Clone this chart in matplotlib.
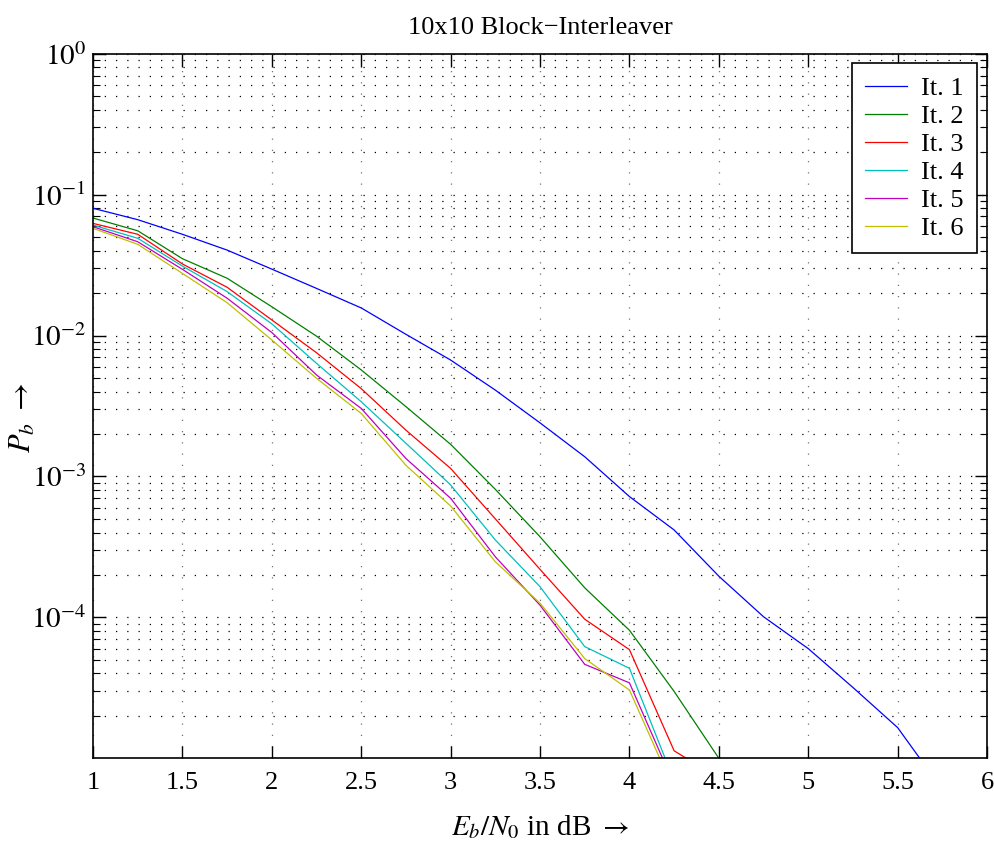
import numpy as np
import matplotlib
matplotlib.use("Agg")
import matplotlib.pyplot as plt
from matplotlib.ticker import LogLocator, NullFormatter, FixedLocator

# Data (Eb/N0 in dB vs. bit error probability)
ebn0 = [1.0, 1.25, 1.5, 1.75, 2.0, 2.25, 2.5, 2.75, 3.0, 3.25, 3.5,
        3.75, 4.0, 4.25, 4.5, 4.75, 5.0, 5.25, 5.5, 5.75]

it1 = [0.080, 0.0664, 0.0523, 0.0404, 0.0296, 0.0216, 0.0157, 0.0102,
       6.7e-3, 4.1e-3, 2.4e-3, 1.38e-3, 7.2e-4, 4.17e-4, 1.96e-4,
       1.01e-4, 6.0e-5, 3.18e-5, 1.65e-5, 6.0e-6]
it2 = [0.0682, 0.0554, 0.0351, 0.0255, 0.016, 0.0099, 5.7e-3, 3.13e-3,
       1.69e-3, 8.1e-4, 3.73e-4, 1.62e-4, 8.1e-5, 2.98e-5, 1.0e-5, 2e-6]
it3 = [0.0625, 0.0523, 0.0322, 0.022, 0.0129, 7.55e-3, 4.2e-3, 2.13e-3,
       1.14e-3, 5.0e-4, 2.19e-4, 9.7e-5, 5.9e-5, 1.13e-5, 7.2e-6]
it4 = [0.0608, 0.049, 0.0311, 0.0205, 0.0121, 6.35e-3, 3.39e-3, 1.72e-3,
       8.7e-4, 3.54e-4, 1.65e-4, 6.2e-5, 4.35e-5, 6.9e-6]
it5 = [0.0592, 0.0463, 0.0295, 0.0184, 0.0105, 5.25e-3, 3.04e-3, 1.34e-3,
       7.0e-4, 2.69e-4, 1.22e-4, 4.64e-5, 3.43e-5, 6.5e-6]
it6 = [0.0576, 0.0444, 0.0276, 0.0171, 9.3e-3, 4.97e-3, 2.8e-3, 1.2e-3,
       6.17e-4, 2.48e-4, 1.26e-4, 5.1e-5, 3.05e-5, 5.9e-6]

series = [it1, it2, it3, it4, it5, it6]
labels = ["It. 1", "It. 2", "It. 3", "It. 4", "It. 5", "It. 6"]
colors = [(0, 0, 1), (0, 0.5, 0), (1, 0, 0), (0, 0.75, 0.75),
          (0.75, 0, 0.75), (0.75, 0.75, 0)]

plt.rcParams["font.family"] = ["Liberation Serif", "DejaVu Serif"]
plt.rcParams["mathtext.fontset"] = "stix"

fig = plt.figure(figsize=(9.95, 8.46), dpi=100)
ax = fig.add_axes([0.0935, 0.1037, 0.8985, 0.8328])

for vals, lab, col in zip(series, labels, colors):
    ax.plot(ebn0[:len(vals)], vals, color=col, lw=0.9, label=lab)

ax.set_yscale("log")
ax.set_xlim(1, 6)
ax.set_ylim(1e-5, 1)
ax.set_xticks([1, 1.5, 2, 2.5, 3, 3.5, 4, 4.5, 5, 5.5, 6])
ax.set_xticklabels(["1", "1.5", "2", "2.5", "3", "3.5", "4", "4.5", "5",
                    "5.5", "6"])
ax.yaxis.set_major_locator(FixedLocator([1e-4, 1e-3, 1e-2, 1e-1, 1e0]))
ax.yaxis.set_minor_locator(LogLocator(base=10, subs=np.arange(2, 10)))
ax.yaxis.set_minor_formatter(NullFormatter())
ax.set_yticklabels([r"$10^{-4}$", r"$10^{-3}$", r"$10^{-2}$",
                    r"$10^{-1}$", r"$10^{0}$"])

ax.tick_params(which="both", direction="in", top=True, right=True)
ax.tick_params(axis="x", labelsize=19, pad=10)
ax.tick_params(axis="y", labelsize=21, pad=5)
ax.tick_params(which="major", length=9, width=1)
ax.tick_params(which="minor", length=5, width=0.8)

dots = (0, (1, 8))
ax.grid(True, axis="x", which="major", color="0.45", ls=dots, lw=0.9)
ax.grid(True, axis="y", which="major", color="black", ls=dots, lw=0.9)
ax.grid(True, axis="y", which="minor", color="black", ls=dots, lw=0.9)
for sp in ax.spines.values():
    sp.set_linewidth(1.2)

ax.set_title("10x10 Block\u2212Interleaver", fontsize=19, pad=14)
ax.set_xlabel(r"$E_b/N_0$ in dB $\rightarrow$", fontsize=21, labelpad=14)
ax.set_ylabel(r"$P_b$ $\rightarrow$", fontsize=22)
ax.yaxis.set_label_coords(-0.062, 0.483)

leg = ax.legend(loc="upper right", fontsize=19, fancybox=False,
                framealpha=1, edgecolor="black", handlelength=1.6,
                handletextpad=0.55, borderaxespad=0.37, labelspacing=0.17,
                borderpad=0.5)
leg.get_frame().set_linewidth(1.2)

fig.savefig("out.png", dpi=100)
